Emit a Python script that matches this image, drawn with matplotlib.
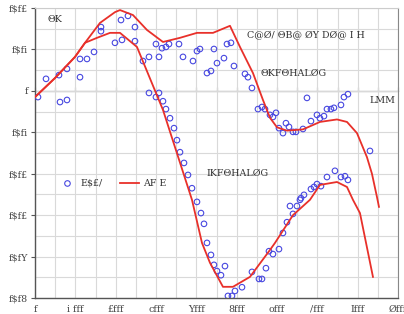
import numpy as np
import matplotlib.pyplot as plt
from matplotlib.ticker import MultipleLocator

pts_x = [74, 273, 595, 793, 1116, 1289, 1463, 1116, 620, 793,
         1636, 1636, 1983, 2157, 2132, 2305, 2479, 2479, 2677, 2826,
         2999, 3074, 3148, 3247, 3322, 3570, 3669, 3917, 4016, 4090,
         4264, 4363, 4437, 4512, 4685, 4760, 4859, 4933, 5206, 5280,
         5379, 5528, 5627, 5702, 5826, 5900, 5975, 6049, 6148, 6222,
         6297, 6396, 6470, 6644, 6743, 6842, 6991, 7065, 7164, 7239,
         7338, 7412, 7586, 7660, 7759, 8305,
         2826, 2999, 3074, 3173, 3247, 3347, 3446, 3520, 3595, 3694,
         3793, 3892, 4016, 4115, 4190, 4264, 4363, 4437, 4512, 4611,
         4710, 4784, 4883, 4958, 5132, 5379, 5553, 5627, 5726, 5801,
         5900, 6049, 6148, 6247, 6322, 6396, 6495, 6569, 6594, 6669,
         6842, 6917, 6991, 7090, 7239, 7437, 7586, 7685, 7759]
pts_y = [-0.0015, 0.0029, 0.0038, 0.0053, 0.0077, 0.0077, 0.0094, 0.0033, -0.0027, -0.0022,
         0.0154, 0.0144, 0.0116, 0.0123, 0.0171, 0.0181, 0.0154, 0.0120, 0.0072, 0.0082,
         0.0113, 0.0082, 0.0103, 0.0106, 0.0113, 0.0113, 0.0082, 0.0072, 0.0096, 0.0101,
         0.0043, 0.0048, 0.0101, 0.0067, 0.0079, 0.0113, 0.0116, 0.0060, 0.0041, 0.0033,
         0.0007, -0.0044, -0.0039, -0.0044, -0.0058, -0.0063, -0.0053, -0.0090, -0.0102, -0.0078,
         -0.0087, -0.0099, -0.0099, -0.0092, -0.0017, -0.0073, -0.0058, -0.0066, -0.0061, -0.0044,
         -0.0044, -0.0041, -0.0034, -0.0015, -0.0008, -0.0145,
         -0.0005, -0.0015, -0.0005, -0.0025, -0.0044, -0.0066, -0.0090, -0.0119, -0.0148, -0.0174,
         -0.0203, -0.0235, -0.0268, -0.0295, -0.0321, -0.0367, -0.0396, -0.0420, -0.0435, -0.0445,
         -0.0423, -0.0495, -0.0495, -0.0483, -0.0474, -0.0437, -0.0454, -0.0454, -0.0428, -0.0387,
         -0.0394, -0.0382, -0.0343, -0.0317, -0.0278, -0.0297, -0.0278, -0.0263, -0.0259, -0.0251,
         -0.0237, -0.0232, -0.0225, -0.0230, -0.0208, -0.0193, -0.0208, -0.0206, -0.0215]

# fitted curves
fit1_x = [0, 496, 992, 1240, 1611, 1983, 2107, 2429, 2776, 3173, 3594, 4016, 4413, 4834,
          5082, 5404, 5652, 5826, 6000, 6247, 6644, 7065, 7487, 7735, 7983, 8230, 8354, 8478, 8528]
fit1_y = [-0.0015, 0.0031, 0.0082, 0.0116, 0.0164, 0.0190, 0.0195, 0.0183, 0.0147, 0.0118, 0.0128,
          0.0140, 0.0140, 0.0157, 0.0106, 0.0043, -0.0022, -0.0065, -0.0088, -0.0096, -0.0093,
          -0.0075, -0.0069, -0.0075, -0.0102, -0.0160, -0.0200, -0.0256, -0.0280]
fit2_x = [0, 496, 992, 1240, 1537, 1859, 2107, 2528, 3173, 3892, 4140, 4338, 4660, 4908,
          5330, 5826, 5950, 6396, 6817, 7065, 7487, 7735, 7883, 8057, 8379]
fit2_y = [-0.0015, 0.0031, 0.0082, 0.0116, 0.0128, 0.0140, 0.0140, 0.0106, -0.0046, -0.0263,
          -0.0367, -0.0415, -0.0473, -0.0473, -0.0449, -0.0384, -0.0367, -0.0300, -0.0263,
          -0.0227, -0.0220, -0.0232, -0.0263, -0.0295, -0.0449]

x_ticks = [0, 1000, 2000, 3000, 4000, 5000, 6000, 7000, 8000, 9000]
x_labels = ['f', 'i fff', '£fff', 'cfff', 'Yfff', '8fff', 'offf', '/fff', 'Ifff', 'Øfff']
y_ticks = [0.02, 0.01, 0, -0.01, -0.02, -0.03, -0.04, -0.05]
y_labels = ['f$f£', 'f$fi', 'f', 'f$fi', 'f$f£', 'f$f£', 'f$fY', 'f$f8']

font = 'DejaVu Serif'
fs = 6.8
fig = plt.figure(figsize=(4.04, 3.14), dpi=100)
ax = fig.add_axes([35 / 404, 16 / 314, 363 / 404, 290 / 314])
ax.set_xlim(0, 9000)
ax.set_ylim(-0.05, 0.02)

ax.xaxis.set_minor_locator(MultipleLocator(500))
ax.yaxis.set_minor_locator(MultipleLocator(0.005))
ax.grid(True, which='both', color='#d9d9d9', lw=0.8)
ax.set_axisbelow(True)

ax.set_xticks(x_ticks)
ax.set_xticklabels(x_labels, fontsize=fs, family=font, color='#444444')
ax.set_yticks(y_ticks)
ax.set_yticklabels(y_labels, fontsize=fs, family=font, color='#444444')
ax.tick_params(axis='x', which='both', length=0, pad=5)
ax.tick_params(axis='y', which='major', length=3, color='#555555', pad=2)
ax.tick_params(axis='y', which='minor', length=0)

for s in ['left', 'bottom']:
    ax.spines[s].set_color('#555555')
    ax.spines[s].set_linewidth(1.0)
ax.spines['right'].set_color('#888888')
ax.spines['top'].set_color('#cccccc')

# zero axis with ticks
sec = ax.secondary_xaxis(0.05 / 0.07)
sec.spines['bottom'].set_color('#555555')
sec.set_xticks(np.arange(0, 9001, 500))
sec.set_xticklabels([])
sec.tick_params(length=3, color='#555555', direction='out')

ax.scatter(pts_x, pts_y, s=16, facecolors='none', edgecolors='#4848e0', linewidths=0.8,
           label='E$£/', zorder=3)
ax.plot(fit1_x, fit1_y, color='#e8302a', lw=1.3, label='AF E', zorder=4)
ax.plot(fit2_x, fit2_y, color='#e8302a', lw=1.3, zorder=4)

ax.text(300, 0.0165, 'ΘK', fontsize=fs, family=font, color='#333333')
ax.text(5250, 0.0135, 'C@Ø/ ΘB@ ØY DØ@ I H', fontsize=fs, family=font, color='#333333', va='center')
ax.text(5600, 0.0042, 'ΘKFΘHALØG', fontsize=fs, family=font, color='#333333', va='center')
ax.text(4250, -0.0200, 'IKFΘHALØG', fontsize=fs, family=font, color='#333333', va='center')
ax.text(8300, -0.0023, 'LMM', fontsize=fs, family=font, color='#333333', va='center')

leg = ax.legend(loc='center left', bbox_to_anchor=(0.04, 0.395), ncol=2, frameon=False,
                prop={'family': font, 'size': fs}, handlelength=2.0, columnspacing=1.8,
                handletextpad=0.4)
for t in leg.get_texts():
    t.set_color('#333333')

fig.savefig('out.png', dpi=100)
